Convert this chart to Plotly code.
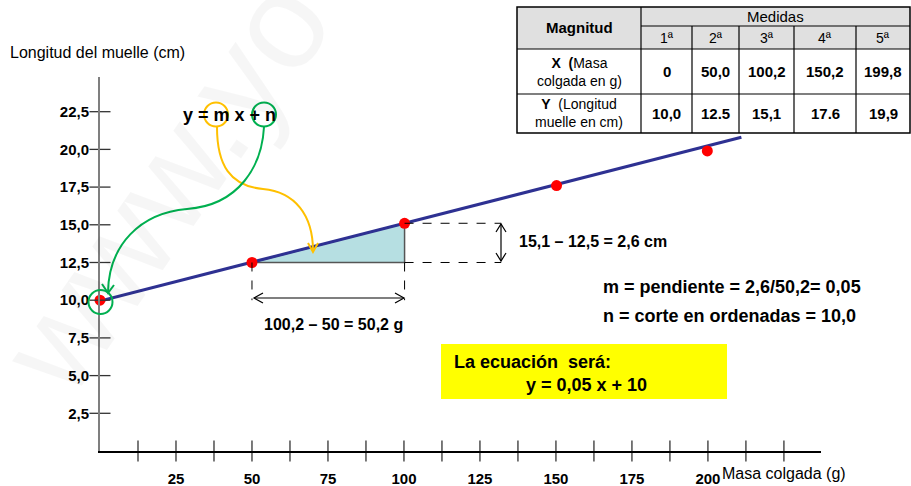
import plotly.graph_objects as go

# ---------------- data ----------------
x_vals = [0, 50.0, 100.2, 150.2, 199.8]          # masa colgada (g)
y_vals = [10.0, 12.5, 15.1, 17.6, 19.9]          # longitud del muelle (cm)
x_labels = ["0", "50,0", "100,2", "150,2", "199,8"]
y_labels = ["10,0", "12.5", "15,1", "17.6", "19,9"]
ordinals = ["1ª", "2ª", "3ª", "4ª", "5ª"]

fit_x = [0, 211]          # drawn fitted line
fit_y = [9.95, 20.8]

tri_x = [50.0, 100.2, 100.2, 50.0]
tri_y = [12.5, 12.5, 15.1, 12.5]

x_tick_vals = [25, 50, 75, 100, 125, 150, 175, 200]
x_tick_text = ["25", "50", "75", "100", "125", "150", "175", "200"]
x_tick_marks = [12.5, 25, 37.5, 50, 62.5, 75, 87.5, 100, 112.5, 125, 137.5,
                150, 162.5, 175, 187.5, 200, 212.5, 225]
y_tick_vals = [2.5, 5.0, 7.5, 10.0, 12.5, 15.0, 17.5, 20.0, 22.5]
y_tick_text = ["2,5", "5,0", "7,5", "10,0", "12,5", "15,0", "17,5", "20,0", "22,5"]

# ---------------- layout geometry (pixels) ----------------
W, H = 911, 486
L, T, PW, PH = 100, 77, 721, 374
X_MAX, Y_MAX = 237.2, 24.8
FONT = "Liberation Sans, Arial, sans-serif"


def PX(x):
    return (x - L) / PW


def PY(y):
    return (T + PH - y) / PH


def ppath(points, close=False):
    s = "M " + " L ".join(f"{PX(x):.5f},{PY(y):.5f}" for x, y in points)
    return s + (" Z" if close else "")


def pcurve(start, segs):
    s = f"M {PX(start[0]):.5f},{PY(start[1]):.5f}"
    for c1, c2, e in segs:
        s += (f" C {PX(c1[0]):.5f},{PY(c1[1]):.5f} {PX(c2[0]):.5f},{PY(c2[1]):.5f}"
              f" {PX(e[0]):.5f},{PY(e[1]):.5f}")
    return s


fig = go.Figure()

# watermark
annotations = [dict(text="www.yo", xref="paper", yref="paper", x=PX(165), y=PY(185),
                    xanchor="center", yanchor="middle",
                    showarrow=False, textangle=-55,
                    font=dict(family=FONT, size=135, color="rgba(0,0,0,0.035)"))]

# triangle
fig.add_trace(go.Scatter(x=tri_x, y=tri_y, mode="lines", fill="toself",
                         fillcolor="#b6dfe2", line=dict(color="#555555", width=1.5),
                         hoverinfo="skip", showlegend=False))
# fitted line
fig.add_trace(go.Scatter(x=fit_x, y=fit_y, mode="lines",
                         line=dict(color="#2e3192", width=3), showlegend=False))
# data points
fig.add_trace(go.Scatter(x=x_vals, y=y_vals, mode="markers",
                         marker=dict(color="#ff0000", size=11), cliponaxis=False,
                         showlegend=False))
# cross ticks
fig.add_trace(go.Scatter(x=x_tick_marks, y=[0] * len(x_tick_marks), mode="markers",
                         marker=dict(symbol="line-ns", size=15,
                                     line=dict(color="#333333", width=1.3)),
                         cliponaxis=False, hoverinfo="skip", showlegend=False))
fig.add_trace(go.Scatter(x=[0] * len(y_tick_vals), y=y_tick_vals, mode="markers",
                         marker=dict(symbol="line-ew", size=15,
                                     line=dict(color="#333333", width=1.3)),
                         cliponaxis=False, hoverinfo="skip", showlegend=False))

shapes = []
dash = dict(color="#000000", width=1, dash="dash")
# dashed guides in data coords
shapes += [
    dict(type="line", xref="x", yref="y", x0=tri_x[0], y0=tri_y[0], x1=tri_x[0], y1=10.0, line=dash),
    dict(type="line", xref="x", yref="y", x0=tri_x[1], y0=tri_y[1], x1=tri_x[1], y1=10.0, line=dash),
    dict(type="line", xref="x", yref="y", x0=tri_x[2], y0=tri_y[2], x1=132, y1=tri_y[2], line=dash),
    dict(type="line", xref="x", yref="y", x0=tri_x[1], y0=tri_y[1], x1=132, y1=tri_y[1], line=dash),
]
thin = dict(color="#000000", width=1.2)
# horizontal double arrow
shapes += [
    dict(type="path", xref="paper", yref="paper", path=ppath([(254, 298), (404, 298)]), line=thin),
    dict(type="path", xref="paper", yref="paper", path=ppath([(263, 293), (254, 298), (263, 303)]), line=thin),
    dict(type="path", xref="paper", yref="paper", path=ppath([(395, 293), (404, 298), (395, 303)]), line=thin),
]
# vertical double arrow
shapes += [
    dict(type="path", xref="paper", yref="paper", path=ppath([(501, 224), (501, 261)]), line=thin),
    dict(type="path", xref="paper", yref="paper", path=ppath([(496, 232), (501, 224), (506, 232)]), line=thin),
    dict(type="path", xref="paper", yref="paper", path=ppath([(496, 253), (501, 261), (506, 253)]), line=thin),
]
# circles
ORANGE, GREEN = "#ffc000", "#00b050"
shapes += [
    dict(type="circle", xref="paper", yref="paper", x0=PX(204), x1=PX(228), y0=PY(126.5), y1=PY(102.5),
         line=dict(color=ORANGE, width=2)),
    dict(type="circle", xref="paper", yref="paper", x0=PX(252), x1=PX(276), y0=PY(126.5), y1=PY(102.5),
         line=dict(color=GREEN, width=2)),
    dict(type="circle", xref="paper", yref="paper", x0=PX(88.5), x1=PX(112.5), y0=PY(314), y1=PY(290),
         line=dict(color=GREEN, width=2)),
]
# curved arrows
shapes += [
    dict(type="path", xref="paper", yref="paper",
         path=pcurve((217, 127), [((217, 165), (230, 186), (263, 189)),
                                  ((295, 192), (313, 215), (313, 251))]),
         line=dict(color=ORANGE, width=2)),
    dict(type="path", xref="paper", yref="paper", path=ppath([(308, 243), (313, 252), (318, 243)]),
         line=dict(color=ORANGE, width=2)),
    dict(type="path", xref="paper", yref="paper",
         path=pcurve((264, 127), [((262, 165), (240, 205), (187, 209)),
                                  ((140, 213), (109, 245), (108, 292))]),
         line=dict(color=GREEN, width=2)),
    dict(type="path", xref="paper", yref="paper", path=ppath([(102, 284), (108, 293), (114, 285)]),
         line=dict(color=GREEN, width=2)),
]
# yellow box
shapes.append(dict(type="rect", xref="paper", yref="paper", x0=PX(441), x1=PX(727),
                   y0=PY(399), y1=PY(344), fillcolor="#ffff00", line=dict(width=0), layer="below"))

# ---------------- table ----------------
col_edges = [517, 641, 692, 739, 794, 856, 910]
row_edges = [7, 26, 49, 94, 133]
shapes.append(dict(type="rect", xref="paper", yref="paper", x0=PX(col_edges[0]), x1=PX(col_edges[-1]),
                   y0=PY(row_edges[2]), y1=PY(row_edges[0]), fillcolor="#e0e0e0",
                   line=dict(width=0), layer="below"))
tline = dict(color="#000000", width=1.2)
shapes.append(dict(type="line", xref="paper", yref="paper", x0=PX(col_edges[1]), x1=PX(col_edges[-1]),
                   y0=PY(row_edges[1]), y1=PY(row_edges[1]), line=tline))
for r in row_edges[2:4]:
    shapes.append(dict(type="line", xref="paper", yref="paper", x0=PX(col_edges[0]), x1=PX(col_edges[-1]),
                       y0=PY(r), y1=PY(r), line=tline))
shapes.append(dict(type="line", xref="paper", yref="paper", x0=PX(col_edges[1]), x1=PX(col_edges[1]),
                   y0=PY(row_edges[0]), y1=PY(row_edges[-1]), line=tline))
for c in col_edges[2:-1]:
    shapes.append(dict(type="line", xref="paper", yref="paper", x0=PX(c), x1=PX(c),
                       y0=PY(row_edges[1]), y1=PY(row_edges[-1]), line=tline))
shapes.append(dict(type="rect", xref="paper", yref="paper", x0=PX(col_edges[0]), x1=PX(col_edges[-1]),
                   y0=PY(row_edges[-1]), y1=PY(row_edges[0]), line=dict(color="#000000", width=1.5)))


def txt(s, x, y, size, xanchor="center", color="#000000"):
    return dict(text=s, xref="paper", yref="paper", x=PX(x), y=PY(y), xanchor=xanchor,
                yanchor="middle", showarrow=False, align="center",
                font=dict(family=FONT, size=size, color=color))


annotations.append(txt("<b>Magnitud</b>", (col_edges[0] + col_edges[1]) / 2, 28, 15))
annotations.append(txt("Medidas", (col_edges[1] + col_edges[-1]) / 2, 16.5, 15))
for i in range(5):
    cx = (col_edges[i + 1] + col_edges[i + 2]) / 2
    annotations.append(txt(ordinals[i], cx, 38, 14))
    annotations.append(txt(f"<b>{x_labels[i]}</b>", cx, 71.5, 15))
    annotations.append(txt(f"<b>{y_labels[i]}</b>", cx, 113.5, 15))
annotations.append(txt("<b>X  (</b>Masa<br>colgada en g)", (col_edges[0] + col_edges[1]) / 2, 71.5, 14))
annotations.append(txt("<b>Y</b>  (Longitud<br>muelle en cm)", (col_edges[0] + col_edges[1]) / 2, 113.5, 14))

# ---------------- other texts ----------------
annotations += [
    txt("Longitud del muelle (cm)", 8, 53, 16, xanchor="left"),
    txt("Masa colgada (g)", 720, 473, 16, xanchor="left"),
    txt("<b>y = m x + n</b>", 229, 115, 18),
    txt("<b>100,2 – 50 = 50,2 g</b>", 333, 324, 16),
    txt("<b>15,1 – 12,5 = 2,6 cm</b>", 517, 241, 16, xanchor="left"),
    txt("<b>m = pendiente = 2,6/50,2= 0,05</b>", 601, 287, 18, xanchor="left"),
    txt("<b>n = corte en ordenadas = 10,0</b>", 601, 316, 18, xanchor="left"),
    txt("<b>La ecuación \u00a0será:</b>", 452, 362, 18, xanchor="left"),
    txt("<b>y = 0,05 x + 10</b>", 586, 385, 18),
]

fig.update_layout(
    template="none",
    width=W, height=H, autosize=False,
    margin=dict(l=L, r=W - L - PW, t=T, b=H - T - PH, pad=0),
    paper_bgcolor="white", plot_bgcolor="white",
    showlegend=False,
    font=dict(family=FONT, color="#000000"),
    shapes=shapes, annotations=annotations,
    xaxis=dict(range=[0, X_MAX], showgrid=False, zeroline=False, showline=True,
               automargin=False, fixedrange=True,
               linecolor="#000000", linewidth=1.5, tickvals=x_tick_vals,
               ticktext=[f"<b>{t}</b>" for t in x_tick_text], ticks="outside",
               ticklen=13, tickcolor="rgba(0,0,0,0)",
               tickfont=dict(size=15, family=FONT, color="#000000")),
    yaxis=dict(range=[0, Y_MAX], showgrid=False, zeroline=False, showline=True,
               automargin=False, fixedrange=True,
               linecolor="#7f7f7f", linewidth=2, tickvals=y_tick_vals,
               ticktext=[f"<b>{t}</b>" for t in y_tick_text], ticks="outside",
               ticklen=6, tickcolor="rgba(0,0,0,0)",
               tickfont=dict(size=15, family=FONT, color="#000000")),
)

fig.write_html("out.html", config={"displayModeBar": False},
               post_script="document.body.style.margin='0';document.body.style.overflow='hidden';")
